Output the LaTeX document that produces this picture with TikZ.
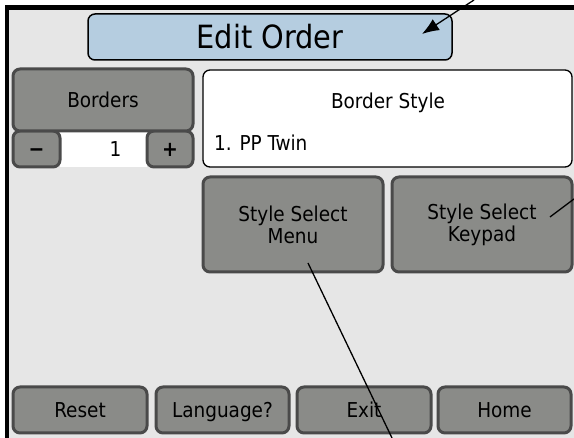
\documentclass[tikz,border=0pt]{standalone}
\usepackage{fontspec}
\setmainfont{DejaVu Sans Condensed}
\usetikzlibrary{arrows.meta}

\definecolor{screenbg}{HTML}{E6E6E6}
\definecolor{btnfill}{HTML}{8A8B88}
\definecolor{btnedge}{HTML}{4A4A4A}
\definecolor{titlefill}{HTML}{B5CDE0}

\tikzset{
  btn/.style={draw=btnedge, line width=3pt, fill=btnfill, rounded corners=7pt,
    inner sep=0pt, align=center, font=\fontsize{20.5}{22}\selectfont},
  oneline/.style={text height=15pt, text depth=0pt},
  panel/.style={draw=black, line width=1.3pt, fill=white, rounded corners=7pt, inner sep=0pt},
  lbl/.style={inner sep=0pt, font=\fontsize{20.5}{22}\selectfont},
  callout/.style={draw=black, line width=1.3pt},
}

\begin{document}
\begin{tikzpicture}[x=1pt, y=-1pt]
  \useasboundingbox (0,0) rectangle (574,438);
  % screen frame
  \fill[screenbg] (7,8) rectangle (574,438);
  \fill[black] (5,5) rectangle (574,10);
  \fill[black] (5,5) rectangle (9,438);

  % title bar
  \node[panel, fill=titlefill, line width=1.5pt, minimum width=364pt, minimum height=46pt,
    text height=23pt, text depth=0pt, font=\fontsize{32}{34}\selectfont] (title) at (270,37) {Edit Order};

  % borders count
  \node[fill=white, minimum width=87pt, minimum height=36pt, inner sep=0pt, oneline,
    font=\fontsize{20.5}{22}\selectfont] (count) at (103.5,149) {\hspace*{24pt}1};
  \node[btn, oneline, minimum width=47pt, minimum height=36pt, font=\bfseries\fontsize{21}{22}\selectfont] (minus) at (36.5,149) {−};
  \node[btn, oneline, minimum width=46pt, minimum height=36pt, font=\bfseries\fontsize{21}{22}\selectfont] (plus) at (170,149) {+};
  \node[btn, oneline, minimum width=180pt, minimum height=62pt] (borders) at (103,100) {Borders};

  % border style panel
  \node[panel, minimum width=369pt, minimum height=97pt] (style) at (387.5,118.5) {};
  \node[lbl, oneline] (styletitle) at (388,101) {Border Style};
  \node[lbl, oneline, anchor=west] (styleitem) at (214,143) {1. PP Twin};

  % style select buttons
  \node[btn, minimum width=180pt, minimum height=95pt] (menu) at (293,224.5) {Style Select\\Menu};
  \node[btn, minimum width=180pt, minimum height=95pt] (keypad) at (482,224.5) {Style Select\\Keypad};

  % bottom row
  \node[btn, oneline, minimum width=134pt, minimum height=46pt] (reset) at (80,410) {Reset};
  \node[btn, oneline, minimum width=133pt, minimum height=46pt] (language) at (222.5,410) {Language?};
  \node[btn, oneline, minimum width=134pt, minimum height=46pt] (exit) at (364,410) {Exit};
  \node[btn, oneline, minimum width=133pt, minimum height=46pt] (home) at (504.5,410) {Home};

  % callouts
  \coordinate (titleout) at (474,0);
  \coordinate (titletip) at (422,34);
  \coordinate (keypadtip) at (550,217);
  \coordinate (keypadout) at (574,199);
  \coordinate (menutip) at (308,263);
  \coordinate (menuout) at (392,438);
  \draw[callout, -{Latex[length=17pt, width=13pt]}] (titleout) -- (titletip);
  \draw[callout] (keypadtip) -- (keypadout);
  \draw[callout] (menutip) -- (menuout);
\end{tikzpicture}
\end{document}
